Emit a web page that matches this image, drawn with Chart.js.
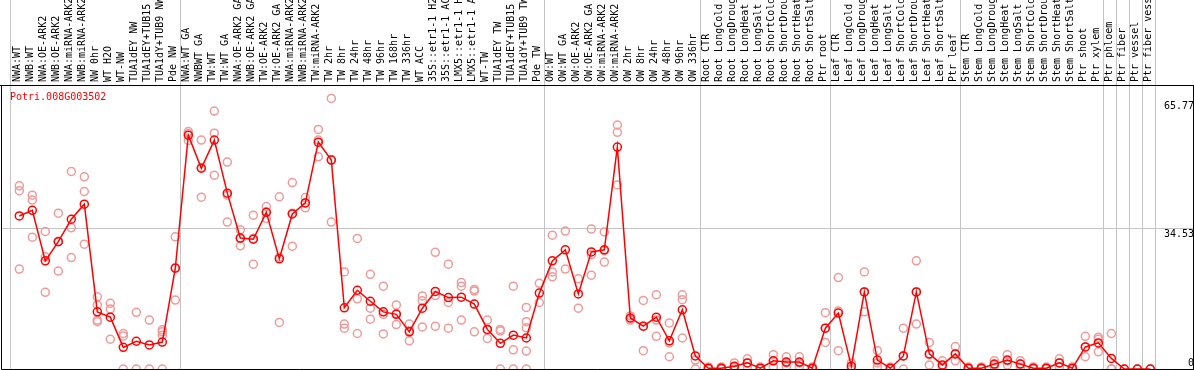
<!DOCTYPE html>
<html>
<head>
<meta charset="utf-8">
<script src="https://cdn.jsdelivr.net/npm/chart.js@4.4.1/dist/chart.umd.min.js"></script>
<style>
html, body { margin: 0; padding: 0; background: #fff; }
</style>
</head>
<body>
<canvas id="chart" width="1194" height="370"></canvas>
<script>
// ============================================
// DATA
// ============================================

const geneId = 'Potri.008G003502';

const categories = [
    'NWA:WT', 'NWB:WT', 'NWA:OE-ARK2', 'NWB:OE-ARK2', 'NWA:miRNA-ARK2', 'NWB:miRNA-ARK2',
    'NW 0hr', 'WT H2O', 'WT-NW', 'TUA1dEY NW', 'TUA1dEY+TUB15', 'TUA1dY+TUB9 NW', 'Pde NW',
    'NWA:WT GA', 'NWBWT GA', 'TW:WT', 'TW:WT GA', 'NWA:OE-ARK2 GA', 'NWB:OE-ARK2 GA',
    'TW:OE-ARK2', 'TW:OE-ARK2 GA', 'NWA:miRNA-ARK2', 'NWB:miRNA-ARK2', 'TW:miRNA-ARK2',
    'TW 2hr', 'TW 8hr', 'TW 24hr', 'TW 48hr', 'TW 96hr', 'TW 168hr', 'TW 336hr', 'WT ACC',
    '35S::etr1-1 H2', '35S::etr1-1 AC', 'LMX5::etr1-1 H', 'LMX5::etr1-1 A', 'WT-TW',
    'TUA1dEY TW', 'TUA1dEY+TUB15', 'TUA1dY+TUB9 TW', 'Pde TW',
    'OW:WT', 'OW:WT GA', 'OW:OE-ARK2', 'OW:OE-ARK2 GA', 'OW:miRNA-ARK2', 'OW:miRNA-ARK2',
    'OW 2hr', 'OW 8hr', 'OW 24hr', 'OW 48hr', 'OW 96hr', 'OW 336hr',
    'Root CTR', 'Root LongCold', 'Root LongDroug', 'Root LongHeat', 'Root LongSalt',
    'Root ShortCold', 'Root ShortDrou', 'Root ShortHeat', 'Root ShortSalt', 'Ptr root',
    'Leaf CTR', 'Leaf LongCold', 'Leaf LongDroug', 'Leaf LongHeat', 'Leaf LongSalt',
    'Leaf ShortCold', 'Leaf ShortDrou', 'Leaf ShortHeat', 'Leaf ShortSalt', 'Ptr leaf',
    'Stem CTR', 'Stem LongCold', 'Stem LongDroug', 'Stem LongHeat', 'Stem LongSalt',
    'Stem ShortCold', 'Stem ShortDrou', 'Stem ShortHeat', 'Stem ShortSalt', 'Ptr shoot',
    'Ptr xylem', 'Ptr phloem', 'Ptr fiber', 'Ptr vessel', 'Ptr fiber vess'
];

// mean expression per sample (red line)
const means = [
    37.5, 38.9, 26.5, 31.2, 36.7, 40.4, 14.0, 12.7, 5.3, 6.8, 5.9, 6.6, 24.7,
    57.3, 49.2, 56.1, 43.1, 32.1, 31.8, 38.4, 27.0, 38.0, 40.7, 55.6, 51.2,
    15.0, 19.3, 16.6, 14.0, 13.4, 9.1, 14.9, 19.0, 17.5, 17.6, 15.9, 9.7, 6.3, 8.3, 7.6, 18.6,
    26.5, 29.2, 18.4, 28.7, 29.2, 54.4, 12.5, 10.5, 12.7, 6.9, 14.5, 3.2,
    0.2, 0.2, 0.7, 1.5, 0.2, 2.0, 1.7, 1.7, 0.2, 10.0,
    13.7, 0.7, 18.9, 2.2, 0.2, 3.2, 18.9, 3.7, 1.0, 3.7,
    0.2, 0.2, 1.2, 2.2, 1.2, 0.2, 0.2, 1.5, 0.2, 5.4,
    6.4, 2.6, 0, 0, 0
];

// single replicates (light red circles)
const reps = [
    [44.9, 43.7, 24.5], [42.6, 41.4, 32.3], [33.7, 27.5, 18.8], [38.2, 31.3, 24.0],
    [48.4, 34.6, 27.3], [47.1, 43.5, 30.6], [17.7, 15.7, 12.0, 11.6], [16.1, 14.7, 7.3],
    [8.7, 8.1, 0], [13.9, 0], [12.0, 0], [9.6, 9.1, 8.3, 0], [32.4, 24.8, 16.9],
    [58.2, 57.7, 56.0], [56.1, 49.4, 42.1], [63.2, 57.8, 47.5], [50.7, 42.6, 36.0],
    [34.1, 32.0, 30.2], [37.7, 32.0, 25.7], [39.8, 38.5, 36.9], [42.2, 27.4, 11.4],
    [45.7, 38.2, 30.1], [42.0, 40.7, 39.5], [58.7, 56.1, 52.0], [66.3, 51.3, 36.0],
    [23.8, 11.0, 10.0], [32.0, 17.2, 8.7], [23.2, 14.9, 12.2], [20.3, 13.4, 8.6],
    [15.7, 13.6, 10.9], [11.0, 9.4, 6.9], [17.9, 16.7, 10.3], [28.6, 18.0, 10.5],
    [25.7, 16.3, 10.0], [21.2, 20.3, 12.0], [19.5, 19.1, 9.1], [12.0, 9.6, 7.5],
    [9.7, 9.3, 0], [20.3, 4.7, 0], [15.1, 11.6, 10.1, 4.4, 0], [21.0, 16.3],
    [32.8, 23.8, 22.6], [33.8, 24.5], [22.1, 14.9], [34.3, 28.0, 23.0], [33.6, 29.0, 26.2],
    [59.8, 58.0, 45.1], [13.0, 12.2, 12.0], [16.8, 10.5, 4.5], [18.2, 12.0, 8.0],
    [11.3, 6.4, 3.0], [18.2, 17.0, 7.6], [2.2, 0],
    [0.5, 0], [0.5, 0], [1.5, 0.5, 0], [2.5, 1.5, 0.5], [0.5, 0], [3.5, 2.0, 0.5],
    [3.0, 1.5, 0.5], [3.0, 1.5, 0.5], [0.5, 0], [13.8, 10.0, 6.5],
    [22.4, 14.2, 4.5], [1.5, 0], [23.8, 18.9, 14.0], [4.5, 1.5, 0.5], [0.5, 0],
    [10.0, 3.2, 0], [26.5, 18.9, 11.0], [6.5, 3.5, 1.0], [2.0, 0.5], [5.5, 3.7, 2.0],
    [0.5, 0], [0.5, 0], [2.0, 1.0, 0.5], [3.5, 2.0, 1.0], [2.0, 1.2, 0.5], [0.5, 0],
    [0.5, 0], [2.5, 1.5, 0.5], [0.5, 0], [8.0, 5.4, 3.0],
    [7.8, 7.3, 4.2], [8.7, 0, 0], [0], [0], [0]
];

const yTicks = [0, 34.53, 65.77];
const yGridValue = 34.53;

// last sample of each block, a grey separator follows it
const blockEnds = [12, 40, 52, 62, 72, 83, 84, 85, 86, 87];

// ============================================
// CHART
// ============================================

const X_MIN = -1.408;
const X_MAX = 90.28;
const separators = [-0.7].concat(blockEnds.map(i => i + 0.4));
const monoFont = { family: 'DejaVu Sans Mono', size: 10, lineHeight: 1.2 };

const meanPoints = means.map((v, i) => ({ x: i, y: v }));
const repPoints = [];
reps.forEach((list, i) => {
    list.forEach(v => repPoints.push({ x: i, y: v }));
});

// no extra room for labels hanging over the ends of an axis
function noEdgePadding(s) {
    s.paddingLeft = 0;
    s.paddingRight = 0;
    s.paddingTop = 0;
    s.paddingBottom = 0;
}

// frame on the left/bottom and the gene id in the corner
const framePlugin = {
    id: 'frame',
    afterDraw(chart) {
        const { ctx, chartArea } = chart;
        ctx.save();
        ctx.strokeStyle = '#000';
        ctx.lineWidth = 1;
        ctx.beginPath();
        ctx.moveTo(0, chartArea.top + 0.5);
        ctx.lineTo(chartArea.right, chartArea.top + 0.5);
        ctx.moveTo(chartArea.left + 0.5, chartArea.top);
        ctx.lineTo(chartArea.left + 0.5, chartArea.bottom + 0.5);
        ctx.lineTo(chartArea.right, chartArea.bottom + 0.5);
        ctx.stroke();
        ctx.fillStyle = '#ff0000';
        ctx.font = '10px "DejaVu Sans Mono"';
        ctx.textBaseline = 'top';
        ctx.fillText(geneId, chartArea.left + 9, chartArea.top + 7);
        ctx.restore();
    }
};

new Chart(document.getElementById('chart').getContext('2d'), {
    type: 'line',
    data: {
        datasets: [
            {
                label: 'mean',
                data: meanPoints,
                borderColor: '#ff0000',
                borderWidth: 1.5,
                pointRadius: 4,
                pointBorderWidth: 1.5,
                pointBorderColor: '#ff0000',
                pointBackgroundColor: 'rgba(0,0,0,0)',
                tension: 0,
                order: 0
            },
            {
                label: 'replicates',
                data: repPoints,
                showLine: false,
                pointRadius: 4,
                pointBorderWidth: 1.5,
                pointBorderColor: '#f09a9a',
                pointBackgroundColor: 'rgba(0,0,0,0)',
                order: 1
            }
        ]
    },
    options: {
        responsive: false,
        animation: false,
        layout: { autoPadding: false, padding: { left: 1, right: 1, top: 0, bottom: 1 } },
        plugins: {
            legend: { display: false },
            tooltip: { enabled: false }
        },
        scales: {
            x: {
                type: 'linear',
                position: 'top',
                min: X_MIN,
                max: X_MAX,
                weight: 1,
                afterBuildTicks: s => { s.ticks = categories.map((c, i) => ({ value: i })); },
                afterFit: s => { s.height = 85; noEdgePadding(s); },
                grid: { display: false, drawTicks: false },
                border: { display: false },
                ticks: {
                    autoSkip: false,
                    minRotation: 90,
                    maxRotation: 90,
                    padding: 3,
                    labelOffset: 10,
                    color: '#000',
                    font: monoFont,
                    callback: v => categories[v]
                }
            },
            sep: {
                type: 'linear',
                axis: 'x',
                position: 'top',
                min: X_MIN,
                max: X_MAX,
                weight: 0,
                afterBuildTicks: s => { s.ticks = separators.map(v => ({ value: v })); },
                afterFit: s => { s.height = 0; noEdgePadding(s); },
                grid: { color: '#c4c4c4', lineWidth: 1, drawTicks: true, tickLength: 85 },
                border: { display: false },
                ticks: { display: false }
            },
            y: {
                type: 'linear',
                position: 'right',
                min: 0,
                max: 69.6,
                afterBuildTicks: s => { s.ticks = yTicks.map(v => ({ value: v })); },
                afterFit: s => { s.width = 0; noEdgePadding(s); },
                grid: {
                    drawTicks: false,
                    color: c => (c.tick && c.tick.value === yGridValue) ? '#c4c4c4' : 'rgba(0,0,0,0)'
                },
                border: { display: true, color: '#000', width: 1 },
                ticks: {
                    mirror: true,
                    padding: 1,
                    color: '#000',
                    font: monoFont,
                    callback: v => v === 0 ? ['0', ''] : ['', String(v)]
                }
            }
        }
    },
    plugins: [framePlugin]
});
</script>
</body>
</html>
